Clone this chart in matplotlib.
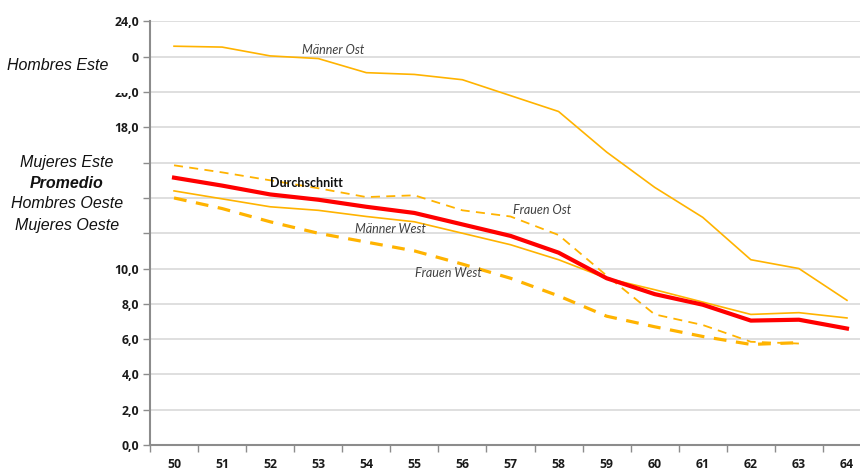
import matplotlib
matplotlib.use('Agg')
import matplotlib.pyplot as plt
from matplotlib.patches import Rectangle
from matplotlib.ticker import FixedLocator, NullFormatter

# Daten
alter = [50, 51, 52, 53, 54, 55, 56, 57, 58, 59, 60, 61, 62, 63, 64]
maenner_ost = [22.6, 22.55, 22.05, 21.9, 21.1, 21.0, 20.7, 19.8, 18.9, 16.6, 14.6, 12.9, 10.5, 10.0, 8.2]
maenner_west = [14.4, 13.95, 13.5, 13.3, 12.95, 12.65, 12.0, 11.35, 10.5, 9.45, 8.8, 8.1, 7.4, 7.5, 7.2]
durchschnitt = [15.15, 14.7, 14.2, 13.9, 13.5, 13.15, 12.5, 11.85, 10.9, 9.45, 8.55, 7.95, 7.05, 7.1, 6.6]
alter_f = alter[:14]
frauen_ost = [15.85, 15.45, 15.0, 14.55, 14.05, 14.15, 13.3, 12.95, 11.9, 9.6, 7.4, 6.8, 5.85, 5.75]
frauen_west = [14.0, 13.4, 12.65, 12.0, 11.5, 11.0, 10.25, 9.45, 8.45, 7.3, 6.7, 6.15, 5.7, 5.8]

y_ticks = [0, 2, 4, 6, 8, 10, 12, 14, 16, 18, 20, 22, 24]
y_labels = ['0,0', '2,0', '4,0', '6,0', '8,0', '10,0', '', '', '', '18,0', '20,0', '0', '24,0']

orange = '#FFB300'
rot = '#FF0000'
grau = '#8C8C8C'

fig = plt.figure(figsize=(8.6, 4.7), dpi=100)
ax = fig.add_axes([150 / 860, 25 / 470, 721 / 860, 423.5 / 470])

ax.plot(alter, maenner_ost, color=orange, lw=1.2, zorder=3)
ax.plot(alter, maenner_west, color=orange, lw=1.2, zorder=3)
ax.plot(alter_f, frauen_ost, color=orange, lw=1.3, dashes=(5, 3.5), zorder=3)
ax.plot(alter_f, frauen_west, color=orange, lw=2.3, dashes=(4, 3), zorder=3)
ax.plot(alter, durchschnitt, color=rot, lw=3.0, zorder=4)

ax.set_xlim(49.5, 64.5)
ax.set_ylim(0, 24)

# Kategorieachse: Striche an den Grenzen, Beschriftung in der Mitte
ax.xaxis.set_major_locator(FixedLocator([a - 0.5 for a in alter] + [64.5]))
ax.xaxis.set_major_formatter(NullFormatter())
ax.xaxis.set_minor_locator(FixedLocator(alter))
ax.set_xticklabels([str(a) for a in alter], minor=True)
ax.tick_params(axis='x', which='major', direction='out', length=5, width=1, color=grau)
ax.tick_params(axis='x', which='minor', length=0, pad=9)

ax.set_yticks(y_ticks)
ax.set_yticklabels(y_labels)
ax.tick_params(axis='y', direction='out', length=5, width=1, color=grau, pad=3)

for lab in ax.get_xticklabels(minor=True) + ax.get_yticklabels():
    lab.set_fontfamily(['Open Sans', 'DejaVu Sans'])
    lab.set_fontweight('bold')
    lab.set_fontsize(8.8)
    lab.set_color('#1A1A1A')

ax.grid(axis='y', color='#D9D9D9', lw=1.2, zorder=0)
ax.set_axisbelow(True)
for s in ['top', 'right']:
    ax.spines[s].set_visible(False)
for s in ['left', 'bottom']:
    ax.spines[s].set_color(grau)
    ax.spines[s].set_linewidth(1.5)

# Beschriftungen im Diagramm
kw = dict(fontsize=9, fontfamily=['Lato', 'DejaVu Sans'], color='#404040', style='italic', zorder=5)
ax.text(53.3, 22.38, 'Männer Ost', ha='center', va='center', **kw)
ax.text(57.65, 13.3, 'Frauen Ost', ha='center', va='center', **kw)
ax.text(54.5, 12.24, 'Männer West', ha='center', va='center', **kw)
ax.text(55.7, 9.75, 'Frauen West', ha='center', va='center', **kw)
ax.text(52.75, 14.85, 'Durchschnitt', ha='center', va='center', fontsize=9,
        fontfamily=['Lato', 'DejaVu Sans'], fontweight='bold', color='#111111', zorder=5)

# Übersetzungen links (weiße Kästen über den Achsenbeschriftungen)
H = 470
fig.add_artist(Rectangle((0, 1 - 93 / H), 129 / 860, 50 / H, transform=fig.transFigure,
                         facecolor='white', edgecolor='none', zorder=10))
fig.add_artist(Rectangle((0, 1 - 243 / H), 142 / 860, 93 / H, transform=fig.transFigure,
                         facecolor='white', edgecolor='none', zorder=10))
lkw = dict(fontsize=11.5, fontfamily=['Liberation Sans', 'DejaVu Sans'],
           style='italic', color='#111111', ha='center', va='center', zorder=11)
fig.text(58 / 860, 1 - 66 / H, 'Hombres Este', **lkw)
fig.text(67 / 860, 1 - 162 / H, 'Mujeres Este', **lkw)
fig.text(67 / 860, 1 - 183 / H, 'Promedio', fontweight='bold', **lkw)
fig.text(67 / 860, 1 - 204 / H, 'Hombres Oeste', **lkw)
fig.text(67 / 860, 1 - 225 / H, 'Mujeres Oeste', **lkw)

fig.savefig('out.png', dpi=100)
